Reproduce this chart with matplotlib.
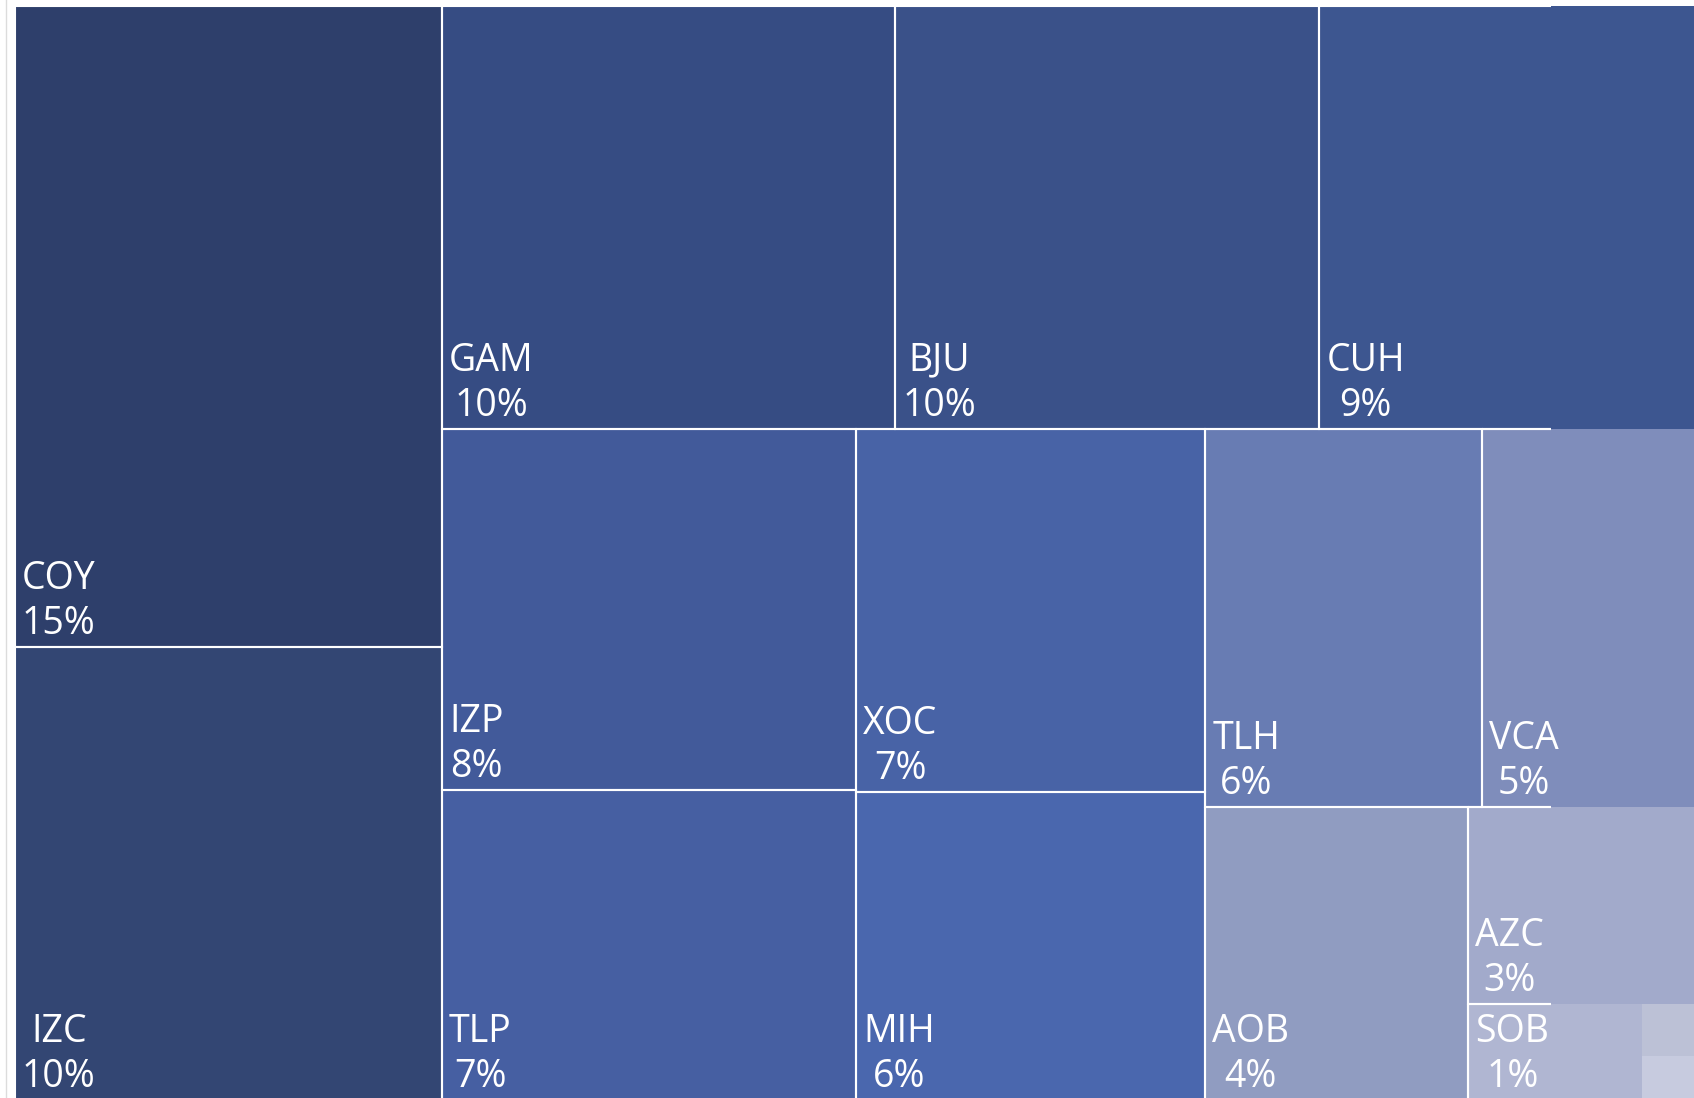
import matplotlib
matplotlib.use("Agg")
import matplotlib.pyplot as plt
from matplotlib.patches import Rectangle

# share of total (labels show the rounded value)
names = ['COY', 'IZC', 'GAM', 'BJU', 'CUH', 'IZP', 'TLP', 'XOC', 'MIH',
         'TLH', 'VCA', 'AOB', 'AZC', 'SOB', 'S1', 'S2']
shares = [14.76, 10.43, 10.32, 9.66, 8.90, 8.06, 6.93, 6.85, 5.79,
          5.66, 4.65, 4.15, 2.56, 0.90, 0.19, 0.16]
colors = ['#2e3f6b', '#334673', '#364c83', '#3a5189', '#3d5690', '#425a9a',
          '#465fa2', '#4863a6', '#4a67ae', '#687cb3', '#7f8dbb', '#909cc1',
          '#a2aacb', '#b0b6d2', '#bcc1d6', '#c7cbdf']
show_label = [True] * 14 + [False, False]

# how the tiles are grouped: 'col' cuts a strip from the left, 'row' from the top
groups = [('col', ['COY', 'IZC']),
          ('row', ['GAM', 'BJU', 'CUH']),
          ('col', ['IZP', 'TLP']),
          ('col', ['XOC', 'MIH']),
          ('row', ['TLH', 'VCA']),
          ('col', ['AOB']),
          ('row', ['AZC']),
          ('col', ['SOB']),
          ('col', ['S1', 'S2'])]

val = dict(zip(names, shares))


def slice_layout(groups, x, y, w, h):
    rects = {}
    left = sum(val[n] for g in groups for n in g[1])
    for kind, items in groups:
        s = sum(val[n] for n in items)
        if kind == 'col':
            cw = w * s / left
            yy = y
            for n in items:
                ih = h * val[n] / s
                rects[n] = (x, yy, cw, ih)
                yy += ih
            x += cw
            w -= cw
        else:
            rh = h * s / left
            xx = x
            for n in items:
                iw = w * val[n] / s
                rects[n] = (xx, y, iw, rh)
                xx += iw
            y += rh
            h -= rh
        left -= s
    return rects


W, H = 1694, 1098
fig = plt.figure(figsize=(W / 100, H / 100), dpi=100)
ax = fig.add_axes([0, 0, 1, 1])
ax.set_xlim(0, W)
ax.set_ylim(H, 0)
ax.axis('off')

# treemap box runs a little past the right and bottom edges of the picture
rects = slice_layout(groups, 15, 6, 1695, 1094)
cut = Rectangle((0, 0), 1551, H, transform=ax.transData)

ax.axvline(6, color='#dcdcdc', lw=1)

for n, c, lab in zip(names, colors, show_label):
    x, y, w, h = rects[n]
    ax.add_patch(Rectangle((x, y), w, h, facecolor=c, edgecolor='none', zorder=1))
    e = Rectangle((x, y), w, h, facecolor='none', edgecolor='white', lw=1.5, zorder=2)
    ax.add_patch(e)
    e.set_clip_path(cut)
    if lab:
        t = ax.text(x + 7, y + h - 4, '{}\n{:.0f}%'.format(n, val[n]), color='white',
                    fontsize=27, family='Open Sans', ha='left', va='bottom',
                    multialignment='center', linespacing=1.24, zorder=3)
        t.set_clip_path(cut)

fig.savefig('out.png', dpi=100)
